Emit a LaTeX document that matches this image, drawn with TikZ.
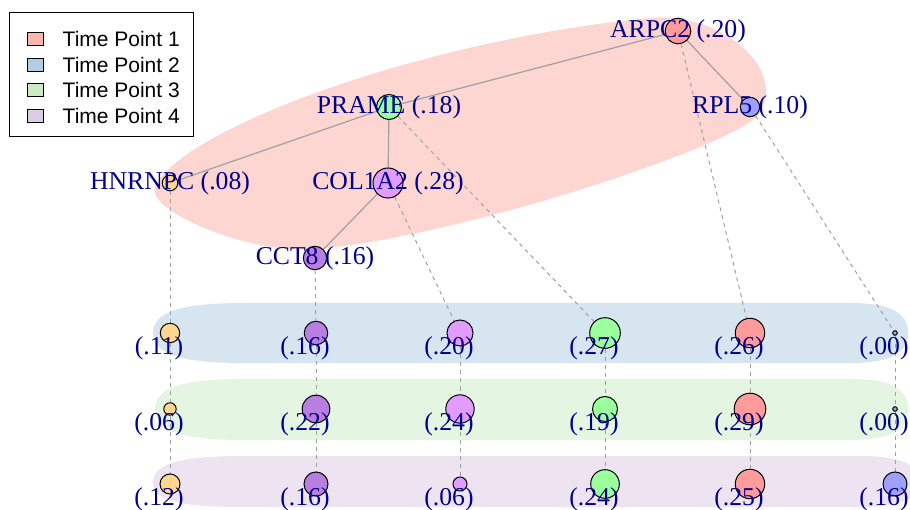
\documentclass[tikz,border=0pt]{standalone}
\usepackage{fontspec}
\setmainfont{Liberation Serif}
\setsansfont{Liberation Sans}
\usetikzlibrary{positioning, backgrounds}

\definecolor{tp1}{HTML}{FBB4AE}
\definecolor{tp2}{HTML}{B3CDE3}
\definecolor{tp3}{HTML}{CCEBC5}
\definecolor{tp4}{HTML}{DECBE4}
\definecolor{labblue}{HTML}{00008B}
\definecolor{gorange}{HTML}{FFD690}
\definecolor{gpurple}{HTML}{B97FE0}
\definecolor{gviolet}{HTML}{E29BFF}
\definecolor{ggreen}{HTML}{9BFF9B}
\definecolor{gred}{HTML}{FF9B9B}
\definecolor{gblue}{HTML}{9F9FFF}
\definecolor{tiegray}{HTML}{A0A0A0}

\begin{document}
\begin{tikzpicture}[
    x=1pt, y=-1pt,
    gene/.style={circle, draw, line width=1pt, inner sep=0pt, minimum size=#1},
    lbl/.style={text=labblue, inner sep=0pt, font=\fontsize{25.7}{28}\selectfont},
    tpl/.style={lbl, xshift=-11pt, yshift=-15pt},
    tie/.style={draw=tiegray, line width=1.2pt},
    link/.style={draw=tiegray, line width=1pt, dash pattern=on 4pt off 4pt},
    swatch/.style={rectangle, draw, line width=1pt, inner sep=0pt, minimum width=16pt, minimum height=13pt},
    legtext/.style={inner sep=0pt, font=\sffamily\fontsize{21}{24}\selectfont},
]
\useasboundingbox (0,0) rectangle (910,510);

% network at time point 1
\node[gene=25.6pt, fill=gred, label={[lbl]center:ARPC2 (.20)}] (arpc2) at (678,31) {};
\node[gene=19.4pt, fill=gblue, label={[lbl]center:RPL5 (.10)}] (rpl5) at (750,107) {};
\node[gene=25pt, fill=ggreen, label={[lbl]center:PRAME (.18)}] (prame) at (389,107) {};
\node[gene=15.6pt, fill=gorange, label={[lbl]center:HNRNPC (.08)}] (hnrnpc) at (170,183) {};
\node[gene=30pt, fill=gviolet, label={[lbl]center:COL1A2 (.28)}] (col1a2) at (388,183) {};
\node[gene=23.4pt, fill=gpurple, label={[lbl]center:CCT8 (.16)}] (cct8) at (315,258) {};

% time point 2
\node[gene=19.4pt, fill=gorange, label={[tpl]center:(.11)}] (hnrnpc2) at (170,333) {};
\node[gene=23.4pt, fill=gpurple, label={[tpl]center:(.16)}] (cct82) at (316,333) {};
\node[gene=26pt, fill=gviolet, label={[tpl]center:(.20)}] (col1a22) at (460,333) {};
\node[gene=30.6pt, fill=ggreen, label={[tpl]center:(.27)}] (prame2) at (605,333) {};
\node[gene=29.4pt, fill=gred, label={[tpl]center:(.26)}] (arpc22) at (750,333) {};
\node[gene=4.6pt, fill=gblue, label={[tpl]center:(.00)}] (rpl52) at (895,333) {};

% time point 3
\node[gene=12.4pt, fill=gorange, label={[tpl]center:(.06)}] (hnrnpc3) at (170,409) {};
\node[gene=27.6pt, fill=gpurple, label={[tpl]center:(.22)}] (cct83) at (316,409) {};
\node[gene=28.4pt, fill=gviolet, label={[tpl]center:(.24)}] (col1a23) at (460,409) {};
\node[gene=25pt, fill=ggreen, label={[tpl]center:(.19)}] (prame3) at (605,409) {};
\node[gene=31.6pt, fill=gred, label={[tpl]center:(.29)}] (arpc23) at (750,409) {};
\node[gene=4.6pt, fill=gblue, label={[tpl]center:(.00)}] (rpl53) at (895,409) {};

% time point 4
\node[gene=20pt, fill=gorange, label={[tpl]center:(.12)}] (hnrnpc4) at (170,484) {};
\node[gene=24pt, fill=gpurple, label={[tpl]center:(.16)}] (cct84) at (316,484) {};
\node[gene=14pt, fill=gviolet, label={[tpl]center:(.06)}] (col1a24) at (460,484) {};
\node[gene=28.6pt, fill=ggreen, label={[tpl]center:(.24)}] (prame4) at (605,484) {};
\node[gene=29.4pt, fill=gred, label={[tpl]center:(.25)}] (arpc24) at (750,484) {};
\node[gene=24pt, fill=gblue, label={[tpl]center:(.16)}] (rpl54) at (895,484) {};

\begin{scope}[on background layer]
% group hulls
\fill[tp1!55] (155,187) .. controls (180,130) and (420,40) .. (650,18)
    .. controls (720,11) and (790,70) .. (758,115)
    .. controls (738,143) and (480,232) .. (320,249)
    .. controls (250,256) and (145,210) .. cycle;
\fill[tp2!52] (153,333) .. controls (153,309) and (190,303) .. (245,303) -- (850,303)
    .. controls (895,303) and (908,315) .. (908,333) .. controls (908,351) and (895,363) .. (850,363)
    -- (245,363) .. controls (190,363) and (153,357) .. cycle;
\fill[tp3!52] (155,409) .. controls (155,385) and (190,379) .. (245,379) -- (850,379)
    .. controls (895,379) and (908,391) .. (908,409) .. controls (908,428) and (895,440) .. (850,440)
    -- (245,440) .. controls (190,440) and (155,434) .. cycle;
\fill[tp4!52] (153,482) .. controls (153,461) and (190,456) .. (245,456) -- (860,456)
    .. controls (905,456) and (918,466) .. (918,482) .. controls (918,498) and (905,507) .. (860,507)
    -- (245,507) .. controls (190,507) and (153,503) .. cycle;

% interactions
\draw[tie] (arpc2) -- (prame);
\draw[tie] (arpc2) -- (rpl5);
\draw[tie] (prame) -- (hnrnpc);
\draw[tie] (prame) -- (col1a2);
\draw[tie] (col1a2) -- (cct8);

% same gene across time points
\draw[link] (hnrnpc) -- (hnrnpc2);
\draw[link] (cct8) -- (cct82);
\draw[link] (col1a2) -- (col1a22);
\draw[link] (prame) -- (prame2);
\draw[link] (arpc2) -- (arpc22);
\draw[link] (rpl5) -- (rpl52);
\draw[link] (hnrnpc2) -- (hnrnpc3);
\draw[link] (cct82) -- (cct83);
\draw[link] (col1a22) -- (col1a23);
\draw[link] (prame2) -- (prame3);
\draw[link] (arpc22) -- (arpc23);
\draw[link] (rpl52) -- (rpl53);
\draw[link] (hnrnpc3) -- (hnrnpc4);
\draw[link] (cct83) -- (cct84);
\draw[link] (col1a23) -- (col1a24);
\draw[link] (prame3) -- (prame4);
\draw[link] (arpc23) -- (arpc24);
\draw[link] (rpl53) -- (rpl54);
\end{scope}

% legend
\node[draw, line width=1pt, fill=white, minimum width=184pt, minimum height=124pt] (legend) at (101,75) {};
\node[swatch, fill=tp1] (sw1) at (35,39) {};
\node[legtext, right=19pt of sw1] (lt1) {Time Point 1};
\node[swatch, fill=tp2, below=11.6pt of sw1] (sw2) {};
\node[legtext, right=19pt of sw2] (lt2) {Time Point 2};
\node[swatch, fill=tp3, below=11.6pt of sw2] (sw3) {};
\node[legtext, right=19pt of sw3] (lt3) {Time Point 3};
\node[swatch, fill=tp4, below=11.6pt of sw3] (sw4) {};
\node[legtext, right=19pt of sw4] (lt4) {Time Point 4};

\end{tikzpicture}
\end{document}
